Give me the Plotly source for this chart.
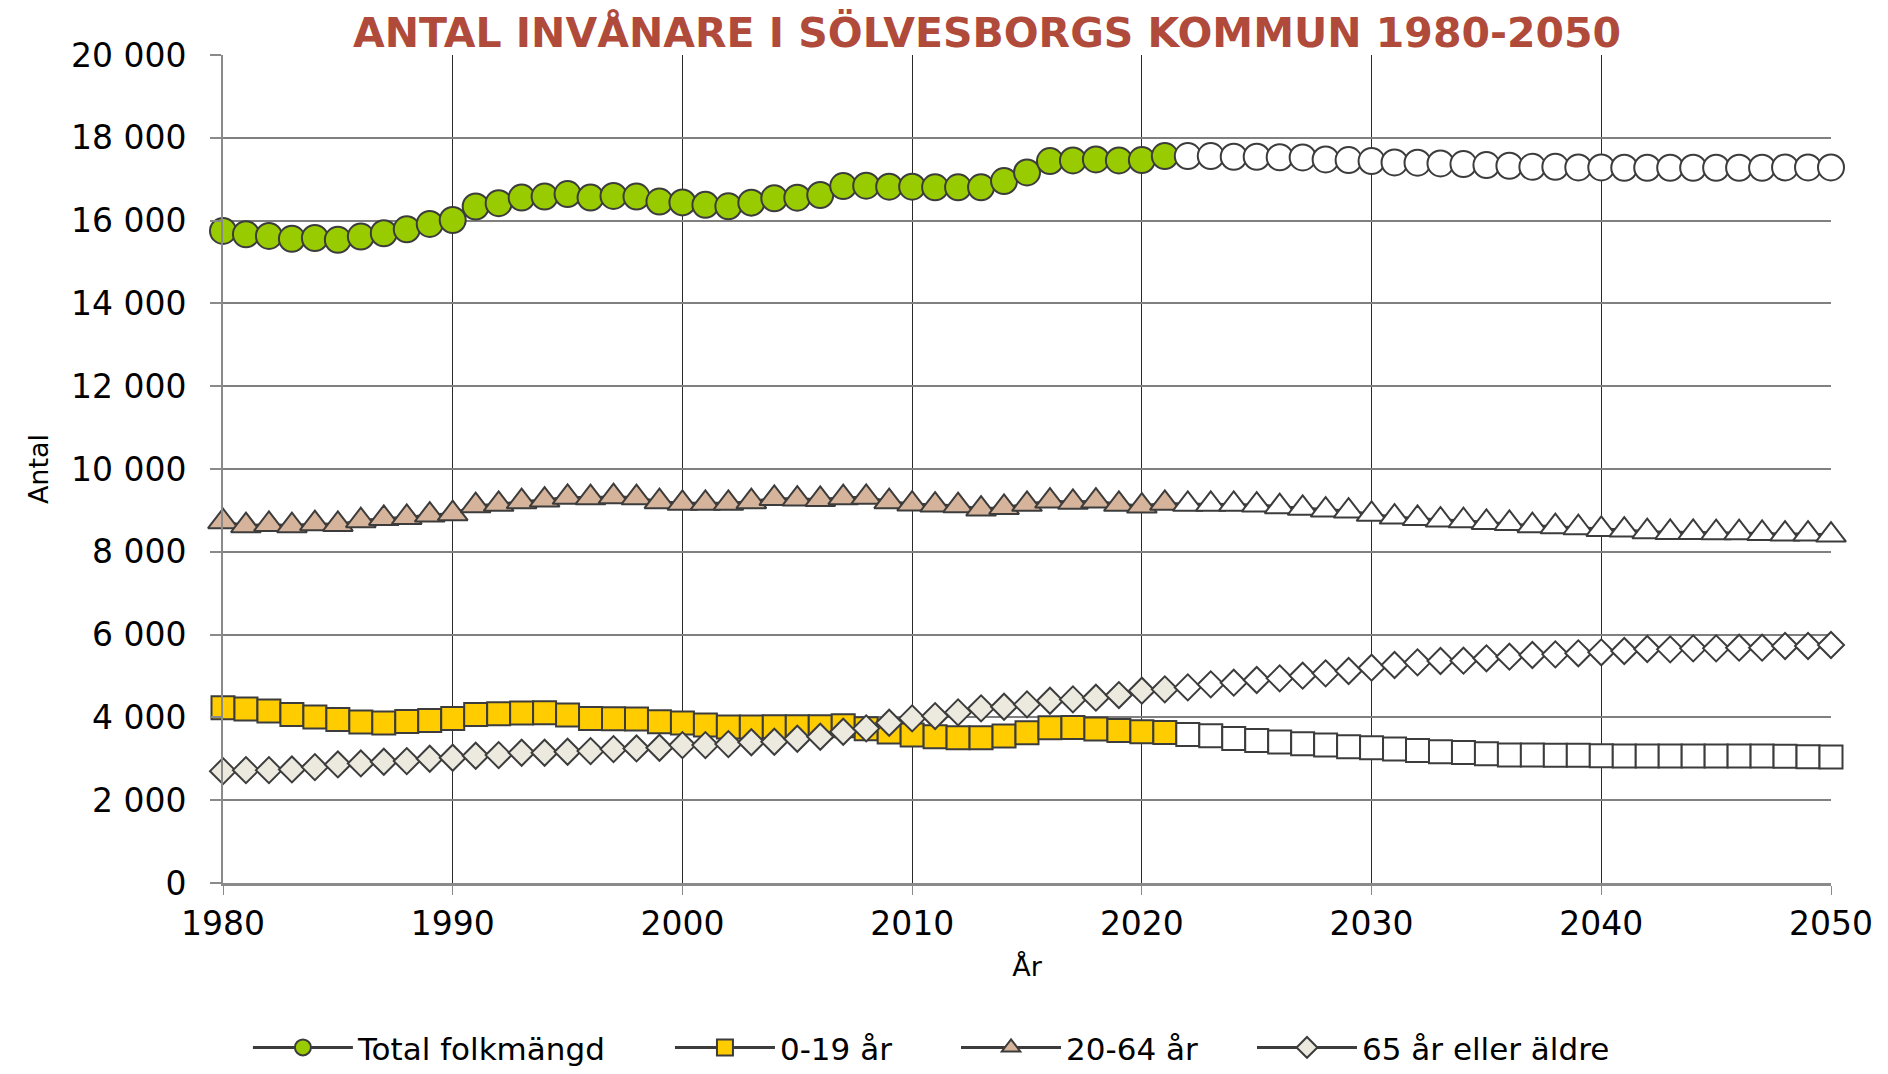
import plotly.graph_objects as go

years = list(range(1980, 2051))
last_observed_year = 2021

total = [15750, 15670, 15630, 15560, 15580, 15535, 15615, 15695, 15790, 15920,
         16015, 16340, 16420, 16555, 16580, 16640, 16555, 16595, 16580, 16460,
         16440, 16380, 16345, 16434, 16538, 16554, 16618, 16835, 16843, 16819,
         16819, 16803, 16803, 16803, 16955, 17164, 17437, 17453, 17477, 17453,
         17461, 17558, 17558, 17558, 17542, 17542, 17530, 17526, 17478, 17462,
         17438, 17406, 17398, 17382, 17366, 17342, 17325, 17300, 17300, 17285,
         17285, 17277, 17277, 17277, 17277, 17277, 17277, 17277, 17285, 17285,
         17285]

age_0_19 = [4234, 4200, 4153, 4072, 4008, 3952, 3887, 3863, 3903, 3927,
            3976, 4072, 4089, 4105, 4113, 4056, 3976, 3968, 3960, 3895,
            3863, 3815, 3766, 3766, 3774, 3774, 3774, 3798, 3726, 3645,
            3573, 3533, 3508, 3508, 3549, 3629, 3750, 3758, 3718, 3686,
            3653, 3637, 3589, 3557, 3492, 3444, 3404, 3363, 3331, 3291,
            3267, 3234, 3202, 3170, 3154, 3121, 3089, 3089, 3085, 3085,
            3073, 3065, 3065, 3065, 3065, 3065, 3065, 3065, 3060, 3050,
            3041]

age_20_64 = [8727, 8630, 8662, 8630, 8678, 8662, 8751, 8807, 8831, 8888,
             8920, 9113, 9146, 9210, 9250, 9315, 9307, 9331, 9307, 9210,
             9170, 9170, 9170, 9210, 9290, 9275, 9265, 9307, 9315, 9210,
             9154, 9130, 9113, 9033, 9073, 9146, 9226, 9194, 9226, 9146,
             9105, 9170, 9146, 9146, 9146, 9130, 9090, 9049, 9009, 8984,
             8904, 8839, 8807, 8767, 8751, 8710, 8686, 8630, 8606, 8581,
             8541, 8525, 8485, 8469, 8469, 8461, 8461, 8444, 8428, 8428,
             8404]

age_65_plus = [2702, 2726, 2726, 2743, 2799, 2864, 2888, 2928, 2944, 3001,
               3025, 3073, 3089, 3146, 3146, 3170, 3186, 3234, 3250, 3267,
               3331, 3331, 3355, 3400, 3412, 3484, 3532, 3653, 3734, 3871,
               3976, 4032, 4121, 4218, 4258, 4314, 4403, 4435, 4476, 4540,
               4645, 4677, 4725, 4798, 4838, 4903, 4943, 5008, 5064, 5120,
               5201, 5265, 5330, 5362, 5370, 5427, 5467, 5507, 5523, 5548,
               5572, 5604, 5652, 5644, 5668, 5668, 5684, 5684, 5725, 5725,
               5749]

series_names = ["Total folkmängd", "0-19 år", "20-64 år", "65 år eller äldre"]
x_ticks = [1980, 1990, 2000, 2010, 2020, 2030, 2040, 2050]
y_ticks = [0, 2000, 4000, 6000, 8000, 10000, 12000, 14000, 16000, 18000, 20000]
y_tick_labels = ["0", "2 000", "4 000", "6 000", "8 000", "10 000", "12 000",
                 "14 000", "16 000", "18 000", "20 000"]

title_text = "ANTAL INVÅNARE I SÖLVESBORGS KOMMUN 1980-2050"

FONT = "DejaVu Sans"
EDGE = "#3c3c3c"
styles = [
    dict(symbol="circle", size=26, color="#99CC00"),
    dict(symbol="square", size=23, color="#FFCC00"),
    dict(symbol="triangle-up", size=26, color="#D5B49B"),
    dict(symbol="diamond", size=20, color="#ECE9DF"),
]

# the page body has an 8px margin, so the figure is sized to end at the window edge
W, H = 1880, 1066
legend_pad = [6, 6, 5, 0]   # trailing non-breaking spaces to space the legend entries

fig = go.Figure()
for name, vals, st, pad in zip(series_names,
                               [total, age_0_19, age_20_64, age_65_plus], styles, legend_pad):
    colors = [st["color"] if y <= last_observed_year else "#FFFFFF" for y in years]
    fig.add_trace(go.Scatter(
        x=years, y=vals, name=name + "\u00a0" * pad, mode="lines+markers",
        line=dict(color=EDGE, width=3),
        marker=dict(symbol=st["symbol"], size=st["size"], color=colors,
                    line=dict(color=EDGE, width=2)),
        cliponaxis=False,
    ))

fig.update_layout(
    width=W, height=H,
    margin=dict(l=215, r=57, t=47, b=191, autoexpand=False),
    paper_bgcolor="white", plot_bgcolor="white",
    font=dict(family=FONT, color="#000000", size=33),
    title=dict(text=title_text, x=979 / W, xanchor="center", xref="container",
               y=1 - 25 / H, yanchor="middle", yref="container",
               font=dict(family=FONT, size=41, color="#B04A3A", weight="bold")),
    showlegend=True,
    legend=dict(orientation="h", x=0.0155, xanchor="left", y=-0.199, yanchor="middle",
                font=dict(family=FONT, size=31), itemwidth=100,
                bgcolor="rgba(0,0,0,0)"),
    xaxis=dict(range=[1980, 2050], tickvals=x_ticks, ticktext=[str(v) for v in x_ticks],
               showgrid=True, gridcolor="#2a2a2a", gridwidth=1,
               showline=True, linecolor="#8a8a8a", linewidth=3,
               ticks="outside", ticklen=9, tickwidth=1, tickcolor="#8a8a8a",
               zeroline=False, tickfont=dict(size=33), automargin=False,
               title=dict(text="År", font=dict(size=27), standoff=16)),
    yaxis=dict(range=[0, 20000], tickvals=y_ticks, ticktext=y_tick_labels,
               showgrid=True, gridcolor="#808080", gridwidth=2,
               showline=True, linecolor="#8a8a8a", linewidth=2,
               ticks="outside", ticklen=11, tickwidth=2, tickcolor="#8a8a8a",
               zeroline=False, tickfont=dict(size=33), ticklabelstandoff=17,
               automargin=False,
               title=dict(text="Antal", font=dict(size=27), standoff=14)),
)

fig.write_html("out.html")
